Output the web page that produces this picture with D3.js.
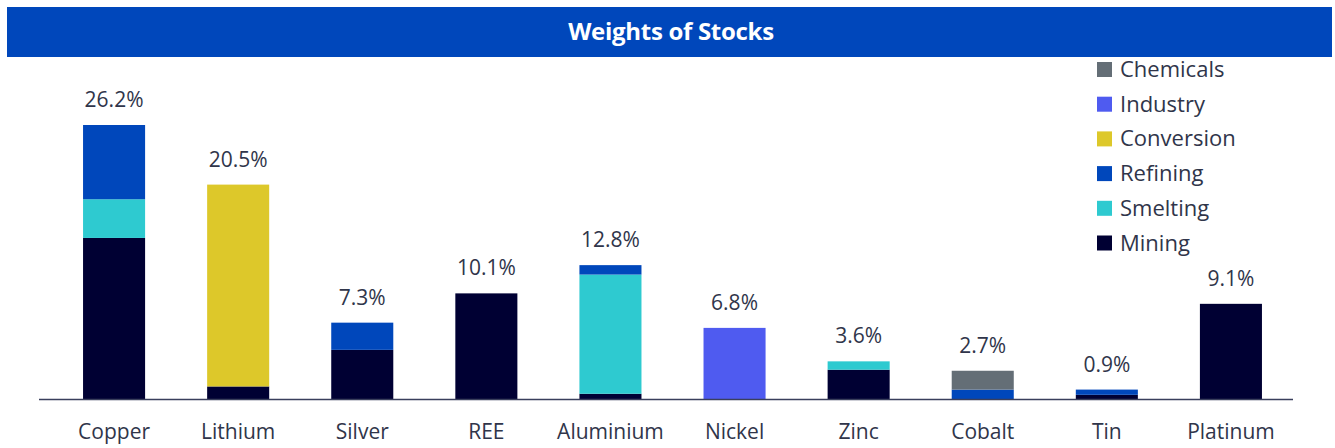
<!DOCTYPE html>
<html>
<head>
<meta charset="utf-8">
<script src="https://cdn.jsdelivr.net/npm/d3@7"></script>
<style>
  html, body { margin: 0; padding: 0; background: #fff; }
  svg { display: block; font-family: "Open Sans", "Noto Sans", sans-serif; }
</style>
</head>
<body>
<div id="chart"></div>
<script>
// === Data ===
const categories = ["Copper", "Lithium", "Silver", "REE", "Aluminium", "Nickel", "Zinc", "Cobalt", "Tin", "Platinum"];
const stages = ["Mining", "Smelting", "Refining", "Conversion", "Industry", "Chemicals"];
const mining     = [15.4, 1.2, 4.7, 10.1, 0.5, 0,   2.8, 0,   0.4, 9.1];
const smelting   = [3.7,  0,   0,   0,    11.4, 0,  0.8, 0,   0,   0];
const refining   = [7.1,  0,   2.6, 0,    0.9, 0,   0,   0.9, 0.5, 0];
const conversion = [0,    19.3, 0,  0,    0,   0,   0,   0,   0,   0];
const industry   = [0,    0,   0,   0,    0,   6.8, 0,   0,   0,   0];
const chemicals  = [0,    0,   0,   0,    0,   0,   0,   1.8, 0,   0];
const totalLabels = ["26.2%", "20.5%", "7.3%", "10.1%", "12.8%", "6.8%", "3.6%", "2.7%", "0.9%", "9.1%"];

const colors = {
  Mining: "#000033",
  Smelting: "#2ECAD0",
  Refining: "#0047BB",
  Conversion: "#DDC82A",
  Industry: "#4F5BF0",
  Chemicals: "#646E76"
};

const rows = categories.map((c, i) => ({
  name: c,
  Mining: mining[i],
  Smelting: smelting[i],
  Refining: refining[i],
  Conversion: conversion[i],
  Industry: industry[i],
  Chemicals: chemicals[i],
  label: totalLabels[i]
}));

const width = 1335, height = 448;
const baseY = 399;

const svg = d3.select("#chart").append("svg")
  .attr("width", width)
  .attr("height", height);

// title bar
svg.append("rect")
  .attr("x", 7).attr("y", 7)
  .attr("width", 1325).attr("height", 50)
  .attr("fill", "#0047BB");
svg.append("text")
  .attr("x", 671).attr("y", 40)
  .attr("text-anchor", "middle")
  .attr("fill", "#fff")
  .attr("font-weight", "bold")
  .attr("font-size", 24)
  .attr("letter-spacing", -0.3)
  .text("Weights of Stocks");

const x = d3.scaleBand()
  .domain(categories)
  .range([21, 1324])
  .paddingInner(0.5)
  .paddingOuter(0.5);

const y = d3.scaleLinear()
  .domain([0, 26.2])
  .range([baseY, 125]);

const stacked = d3.stack().keys(stages)(rows);

svg.append("g")
  .selectAll("g")
  .data(stacked)
  .join("g")
  .attr("fill", d => colors[d.key])
  .selectAll("rect")
  .data(d => d)
  .join("rect")
  .attr("x", d => x(d.data.name))
  .attr("y", d => y(d[1]))
  .attr("height", d => y(d[0]) - y(d[1]))
  .attr("width", x.bandwidth());

// value labels
svg.append("g")
  .selectAll("text")
  .data(rows)
  .join("text")
  .attr("x", d => x(d.name) + x.bandwidth() / 2)
  .attr("y", d => y(d3.sum(stages, k => d[k])) - 18)
  .attr("text-anchor", "middle")
  .attr("fill", "#30354a")
  .attr("font-size", 21)
  .text(d => d.label);

// baseline
svg.append("line")
  .attr("x1", 39).attr("x2", 1293)
  .attr("y1", baseY + 0.5).attr("y2", baseY + 0.5)
  .attr("stroke", "#3a3f5c")
  .attr("stroke-width", 1.5);

// X axis labels
const xAxis = svg.append("g")
  .attr("transform", `translate(0,${baseY})`)
  .call(d3.axisBottom(x).tickSize(0).tickPadding(25));
xAxis.select(".domain").remove();
xAxis.selectAll("text")
  .attr("font-size", 21)
  .attr("font-family", "Open Sans, sans-serif")
  .attr("fill", "#30354a");

// legend (top to bottom: Chemicals ... Mining)
const legendItems = stages.slice().reverse();
const legend = svg.append("g")
  .selectAll("g")
  .data(legendItems)
  .join("g")
  .attr("transform", (d, i) => `translate(1097,${69 + i * 34.7})`);
legend.append("rect")
  .attr("x", 0).attr("y", -7)
  .attr("width", 15).attr("height", 15)
  .attr("fill", d => colors[d]);
legend.append("text")
  .attr("x", 23).attr("y", 8)
  .attr("font-size", 22)
  .attr("fill", "#30354a")
  .text(d => d);
</script>
</body>
</html>
